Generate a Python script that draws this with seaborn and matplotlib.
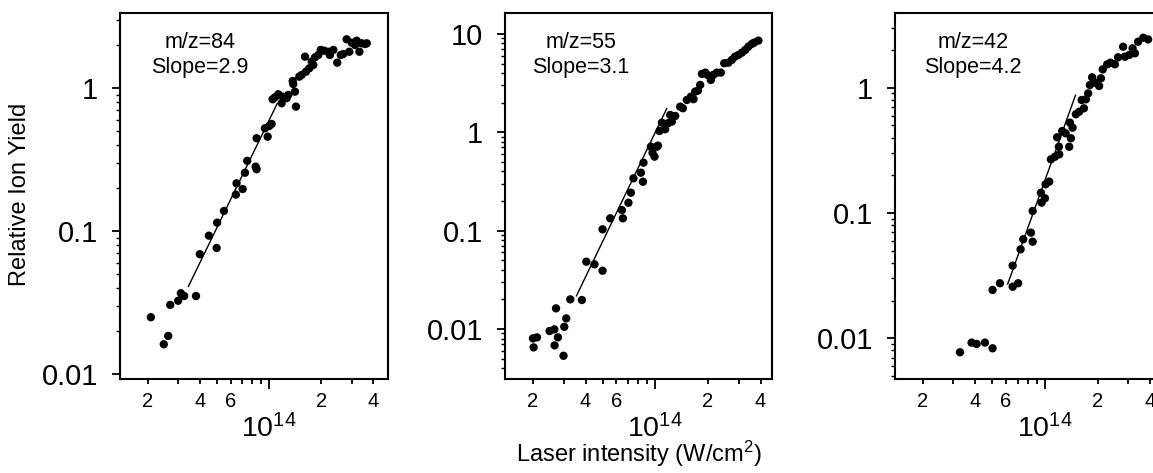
import numpy as np
import matplotlib
matplotlib.use("Agg")
import matplotlib.pyplot as plt
from matplotlib.ticker import FixedLocator, FixedFormatter, LogLocator, NullFormatter
import seaborn as sns

# ---------------- data (intensity in units of 1e14 W/cm^2) ----------------
x84 = [0.208, 0.247, 0.262, 0.269, 0.299, 0.310, 0.324, 0.379, 0.399, 0.450,
       0.499, 0.502, 0.550, 0.644, 0.650, 0.705, 0.727, 0.749, 0.838, 0.849,
       0.849, 0.948, 0.983, 1.004, 1.036, 1.05, 1.083, 1.132, 1.184, 1.20,
       1.265, 1.293, 1.371, 1.381, 1.413, 1.432, 1.497, 1.545, 1.615, 1.637,
       1.711, 1.766, 1.803, 1.845, 1.928, 1.99, 2.08, 2.20, 2.25, 2.355,
       2.48, 2.60, 2.69, 2.81, 2.91, 3.01, 3.14, 3.21, 3.33, 3.43,
       3.59, 3.67]
y84 = [0.0251, 0.01626, 0.01858, 0.0306, 0.0327, 0.0369, 0.0353, 0.0353, 0.0691, 0.0931,
       0.0764, 0.1148, 0.1386, 0.180, 0.216, 0.197, 0.256, 0.310, 0.282, 0.271,
       0.446, 0.523, 0.457, 0.543, 0.561, 0.834, 0.861, 0.904, 0.782, 0.869,
       0.848, 0.894, 1.119, 1.066, 0.942, 0.741, 1.199, 1.232, 1.653, 1.30,
       1.372, 1.527, 1.447, 1.637, 1.70, 1.842, 1.82, 1.79, 1.70, 1.842,
       1.502, 1.70, 1.727, 2.187, 1.79, 2.07, 1.995, 2.138, 1.79, 2.05,
       2.028, 2.05]
fit84_x = [0.342, 1.117]
fit84_y = [0.041, 0.78]

x55 = [0.200, 0.2017, 0.211, 0.249, 0.265, 0.266, 0.271, 0.278, 0.299, 0.302,
       0.310, 0.327, 0.381, 0.404, 0.450, 0.500, 0.500, 0.553, 0.645, 0.653,
       0.703, 0.726, 0.751, 0.828, 0.851, 0.857, 0.945, 0.965, 0.991, 1.023,
       1.036, 1.058, 1.092, 1.140, 1.182, 1.218, 1.245, 1.301, 1.39, 1.439,
       1.517, 1.60, 1.655, 1.693, 1.754, 1.807, 1.849, 1.932, 1.99, 2.08,
       2.15, 2.25, 2.37, 2.48, 2.62, 2.74, 2.86, 2.99, 3.13, 3.27,
       3.41, 3.57, 3.68, 3.89]
y55 = [0.00802, 0.0065, 0.00822, 0.00953, 0.00991, 0.00681, 0.0162, 0.00822, 0.00534, 0.01052,
       0.01282, 0.0200, 0.0197, 0.0483, 0.0454, 0.0391, 0.1031, 0.1334, 0.162, 0.1334,
       0.192, 0.243, 0.340, 0.388, 0.314, 0.491, 0.714, 0.619, 0.565, 0.714,
       0.731, 1.03, 1.252, 1.073, 1.235, 1.50, 1.282, 1.465, 1.82, 1.754,
       2.13, 2.30, 2.17, 2.59, 2.65, 3.03, 3.92, 4.04, 3.83, 3.40,
       3.83, 4.04, 4.04, 5.03, 5.10, 5.44, 5.88, 6.11, 6.45, 6.87,
       7.43, 7.91, 8.16, 8.55]
fit55_x = [0.354, 1.166]
fit55_y = [0.0216, 1.754]

x42 = [0.327, 0.381, 0.407, 0.454, 0.502, 0.502, 0.553, 0.654, 0.654, 0.703,
       0.726, 0.752, 0.832, 0.851, 0.851, 0.949, 0.957, 1.0, 1.009, 1.058,
       1.082, 1.14, 1.175, 1.202, 1.207, 1.255, 1.312, 1.377, 1.39, 1.408,
       1.439, 1.503, 1.570, 1.622, 1.671, 1.715, 1.767, 1.807, 1.862, 1.93,
       2.04, 2.09, 2.14, 2.27, 2.37, 2.51, 2.62, 2.80, 2.865, 3.03,
       3.17, 3.27, 3.41, 3.65, 3.89]
y42 = [0.00773, 0.00923, 0.00901, 0.00923, 0.00832, 0.0243, 0.0275, 0.0258, 0.0380, 0.0275,
       0.0513, 0.0617, 0.0697, 0.0590, 0.1038, 0.145, 0.121, 0.131, 0.1695, 0.178,
       0.268, 0.281, 0.402, 0.338, 0.294, 0.451, 0.433, 0.338, 0.526, 0.395,
       0.480, 0.614, 0.643, 0.798, 0.685, 0.808, 0.902, 1.051, 1.21, 1.096,
       1.032, 1.189, 1.40, 1.537, 1.584, 1.537, 1.749, 2.125, 1.768, 1.823,
       2.063, 1.883, 2.33, 2.506, 2.43]
fit42_x = [0.612, 1.497]
fit42_y = [0.0270, 0.874]

mass_labels = ["m/z=84", "m/z=55", "m/z=42"]
slope_labels = ["Slope=2.9", "Slope=3.1", "Slope=4.2"]

x_major_ticks = [1e14]
x_major_labels = [r"$\mathregular{10^{14}}$"]
x_minor_ticks = [2e13, 3e13, 4e13, 5e13, 6e13, 7e13, 8e13, 9e13, 2e14, 3e14, 4e14]
x_minor_labels = ["2", "", "4", "", "6", "", "", "", "2", "", "4"]

yticks_84 = [0.01, 0.1, 1]
ylabels_84 = ["0.01", "0.1", "1"]
yticks_55 = [0.01, 0.1, 1, 10]
ylabels_55 = ["0.01", "0.1", "1", "10"]
yticks_42 = [0.01, 0.1, 1]
ylabels_42 = ["0.01", "0.1", "1"]

xlims = [(1.38e13, 4.87e14), (1.39e13, 4.67e14), (1.39e13, 4.67e14)]
ylims = [(0.0093, 3.32), (0.0031, 16.2), (0.00473, 3.97)]

# ---------------- style ----------------
sns.set_theme(style="ticks")
plt.rcParams["font.family"] = ["Liberation Sans", "DejaVu Sans"]
plt.rcParams["mathtext.fontset"] = "custom"
plt.rcParams["mathtext.rm"] = "Liberation Sans"
plt.rcParams["mathtext.it"] = "Liberation Sans:italic"
plt.rcParams["mathtext.bf"] = "Liberation Sans:bold"

W, H = 1153, 473
fig = plt.figure(figsize=(W / 100, H / 100), dpi=100)
fig.patch.set_facecolor("white")

# axes rectangles in pixels (left, top, right, bottom)
rects_px = [(120, 13.3, 388, 379), (505.3, 13.3, 772.3, 379), (895, 12.7, 1162, 379)]
text_x = [0.298, 0.282, 0.292]

panels = [
    (x84, y84, fit84_x, fit84_y, yticks_84, ylabels_84),
    (x55, y55, fit55_x, fit55_y, yticks_55, ylabels_55),
    (x42, y42, fit42_x, fit42_y, yticks_42, ylabels_42),
]

for i, (xs, ys, fx, fy, yt, yl) in enumerate(panels):
    l, t, r, b = rects_px[i]
    ax = fig.add_axes([l / W, (H - b) / H, (r - l) / W, (b - t) / H])
    ax.set_facecolor("white")
    ax.set_xscale("log")
    ax.set_yscale("log")
    xv = np.array(xs) * 1e14
    fxv = np.array(fx) * 1e14
    sns.scatterplot(x=xv, y=ys, ax=ax, color="black", s=36, edgecolor="none",
                    legend=False, zorder=3)
    sns.lineplot(x=fxv, y=fy, ax=ax, color="black", linewidth=1.0, sort=False,
                 legend=False, zorder=2)
    ax.set_xlim(*xlims[i])
    ax.set_ylim(*ylims[i])

    # x ticks
    ax.xaxis.set_major_locator(FixedLocator(x_major_ticks))
    ax.xaxis.set_major_formatter(FixedFormatter(x_major_labels))
    ax.xaxis.set_minor_locator(FixedLocator(x_minor_ticks))
    ax.xaxis.set_minor_formatter(FixedFormatter(x_minor_labels))
    ax.tick_params(axis="x", which="major", direction="out", length=7, width=1.3,
                   labelsize=20.5, pad=18.5, color="black", labelcolor="black")
    ax.tick_params(axis="x", which="minor", direction="out", length=3.6, width=1.3,
                   labelsize=14.5, pad=5.5, color="black", labelcolor="black")

    # y ticks
    ax.yaxis.set_major_locator(FixedLocator(yt))
    ax.yaxis.set_major_formatter(FixedFormatter(yl))
    ax.yaxis.set_minor_locator(LogLocator(base=10, subs=np.arange(2, 10)))
    ax.yaxis.set_minor_formatter(NullFormatter())
    ax.tick_params(axis="y", which="major", direction="out", length=6, width=1.3,
                   labelsize=21, pad=10, color="black", labelcolor="black")
    ax.tick_params(axis="y", which="minor", direction="out", length=3.2, width=1.0,
                   color="black")
    ax.tick_params(top=False, right=False, which="both")

    for sp in ax.spines.values():
        sp.set_visible(True)
        sp.set_color("black")
        sp.set_linewidth(1.5)

    ax.set_xlabel("")
    ax.set_ylabel("")
    ax.grid(False)

    ax.text(text_x[i], 0.919, mass_labels[i], transform=ax.transAxes,
            ha="center", va="center", fontsize=15.5, color="black")
    ax.text(text_x[i], 0.851, slope_labels[i], transform=ax.transAxes,
            ha="center", va="center", fontsize=15.5, color="black")

fig.text(20 / W, 1 - 194 / H, "Relative Ion Yield", rotation=90, ha="center",
         va="center", fontsize=17, color="black")
fig.text(639 / W, (H - 462) / H, r"Laser intensity (W/cm$^{2}$)", ha="center",
         va="baseline", fontsize=17, color="black")

fig.savefig("out.png", dpi=100, facecolor="white")
